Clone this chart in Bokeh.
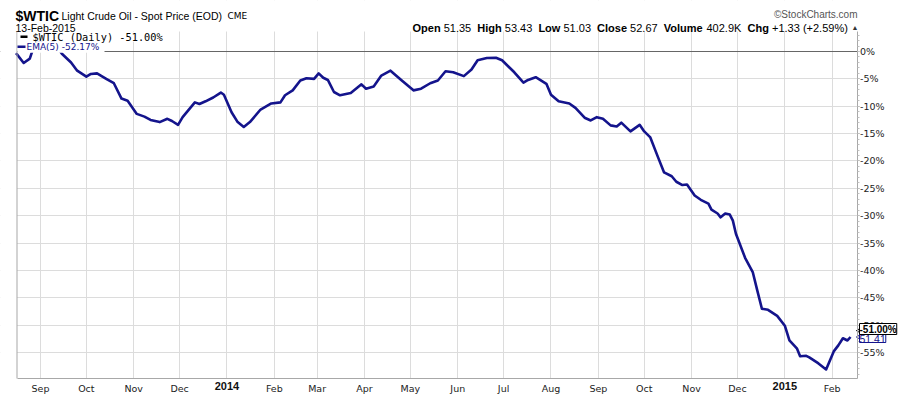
from datetime import datetime
import math
import pandas as pd
from bokeh.plotting import figure
from bokeh.models import (Range1d, DatetimeAxis, LinearAxis, MonthsTicker, FixedTicker,
                          DatetimeTickFormatter, PrintfTickFormatter, Label, Span,
                          BoxAnnotation, Grid)
from bokeh.embed import file_html
from bokeh.resources import INLINE

# ---------------- data ----------------
ema_dates = [
    "2013-08-16", "2013-08-21", "2013-08-25", "2013-08-28", "2013-09-03", "2013-09-06",
    "2013-09-10", "2013-09-15", "2013-09-21", "2013-09-25", "2013-10-01", "2013-10-04",
    "2013-10-08", "2013-10-14", "2013-10-19", "2013-10-24", "2013-10-28", "2013-11-03",
    "2013-11-08", "2013-11-12", "2013-11-18", "2013-11-23", "2013-11-26", "2013-11-30",
    "2013-12-03", "2013-12-11", "2013-12-14", "2013-12-18", "2013-12-23", "2013-12-28",
    "2013-12-30", "2014-01-04", "2014-01-08", "2014-01-12", "2014-01-16", "2014-01-23",
    "2014-01-30", "2014-02-05", "2014-02-08", "2014-02-13", "2014-02-18", "2014-02-22",
    "2014-02-27", "2014-03-02", "2014-03-05", "2014-03-08", "2014-03-12", "2014-03-16",
    "2014-03-23", "2014-03-30", "2014-04-02", "2014-04-07", "2014-04-12", "2014-04-18",
    "2014-04-25", "2014-05-03", "2014-05-08", "2014-05-14", "2014-05-19", "2014-05-24",
    "2014-05-29", "2014-06-05", "2014-06-10", "2014-06-14", "2014-06-20", "2014-06-26",
    "2014-06-30", "2014-07-08", "2014-07-14", "2014-07-17", "2014-07-22", "2014-07-29",
    "2014-08-01", "2014-08-06", "2014-08-13", "2014-08-17", "2014-08-23", "2014-08-27",
    "2014-08-31", "2014-09-04", "2014-09-09", "2014-09-13", "2014-09-16", "2014-09-22",
    "2014-09-28", "2014-10-01", "2014-10-05", "2014-10-10", "2014-10-14", "2014-10-19",
    "2014-10-22", "2014-10-26", "2014-10-29", "2014-11-03", "2014-11-07", "2014-11-12",
    "2014-11-14", "2014-11-18", "2014-11-20", "2014-11-23", "2014-11-26", "2014-11-28",
    "2014-11-30", "2014-12-06", "2014-12-11", "2014-12-14", "2014-12-17", "2014-12-21",
    "2014-12-27", "2015-01-01", "2015-01-04", "2015-01-09", "2015-01-11", "2015-01-15",
    "2015-01-17", "2015-01-23", "2015-01-28", "2015-02-02", "2015-02-05", "2015-02-08",
    "2015-02-11", "2015-02-13",
]
ema_pct = [
    -0.3, -2.1, -1.3, 1.2, 2.2, 2.6,
    1.6, -0.4, -2.0, -3.5, -4.6, -4.1,
    -4.0, -5.0, -5.8, -8.6, -9.0, -11.4,
    -11.9, -12.5, -12.9, -12.3, -12.7, -13.4,
    -12.0, -9.3, -9.6, -9.1, -8.4, -7.5,
    -7.9, -11.1, -12.9, -13.8, -12.9, -10.6,
    -9.5, -9.3, -8.0, -7.1, -5.3, -4.9,
    -5.0, -4.0, -4.8, -5.2, -7.4, -8.0,
    -7.6, -6.0, -6.8, -6.4, -4.4, -3.5,
    -5.2, -7.1, -6.8, -5.8, -5.3, -3.6,
    -3.8, -4.5, -3.3, -1.6, -1.2, -1.15,
    -1.6, -3.8, -5.7, -5.2, -4.7, -5.9,
    -7.9, -9.1, -9.5, -10.3, -12.1, -12.6,
    -12.0, -12.3, -13.5, -13.7, -13.0, -14.6,
    -13.4, -14.6, -15.7, -19.3, -22.1, -22.8,
    -23.8, -24.4, -24.3, -26.3, -27.1, -27.8,
    -28.9, -29.6, -30.3, -29.6, -29.8, -30.9,
    -33.3, -37.7, -40.3, -43.7, -47.0, -47.2,
    -48.3, -50.1, -52.8, -54.3, -55.7, -55.6,
    -55.9, -57.0, -58.1, -54.8, -53.7, -52.4,
    -52.8, -52.17,
]
wtic_pct = -51.00
ema_last_price = "51.41"
y_ticks = [0, -5, -10, -15, -20, -25, -30, -35, -40, -45, -50, -55]
y_minor = list(range(3, -60, -1))
month_ticks = [1, 2, 3, 4, 5, 6, 7, 8, 9, 10, 11]   # Feb..Dec (0-based months)
year_ticks = [0]                                     # January -> year label

symbol = "$WTIC"
name = "Light Crude Oil - Spot Price (EOD)"
exchange = "CME"
as_of = "13-Feb-2015"
quote_labels = ["Open", "High", "Low", "Close", "Volume", "Chg"]
quote_values = ["51.35", "53.43", "51.03", "52.67", "402.9K", "+1.33 (+2.59%)"]

# ---------------- layout (pixels of the 900x396 canvas) ----------------
W, H = 900, 396
PXD = 1.5284                 # pixels per calendar day
ANCHOR = pd.Timestamp("2013-09-01")
ANCHOR_PX = 40.0
PXP = 5.4727                 # pixels per percent
ZERO_PY = 51.0               # pixel row of 0 %
PLOT_L, PLOT_R, PLOT_T, PLOT_B = 16.5, 856.5, 31.0, 378.0

def px_to_date(px):
    return ANCHOR + pd.Timedelta(days=(px - ANCHOR_PX) / PXD)

def py_to_pct(py):
    return -(py - ZERO_PY) / PXP

def ms(ts):
    return float(pd.Timestamp(ts).value // 10**6)

x_start, x_end = px_to_date(0), px_to_date(W)
y_start, y_end = py_to_pct(H), py_to_pct(0)
plot_left_ms, plot_right_ms = ms(px_to_date(PLOT_L)), ms(px_to_date(PLOT_R))
plot_bottom, plot_top = py_to_pct(PLOT_B), py_to_pct(PLOT_T)

NAVY = "#14148c"
GRID = "#dcdcdc"
AXIS = "#a8a8a8"

x = pd.to_datetime(ema_dates)

p = figure(width=W, height=H, output_backend="svg", toolbar_location=None,
           x_axis_type="datetime", x_axis_location=None, y_axis_location=None,
           x_range=Range1d(x_start, x_end), y_range=Range1d(y_start, y_end),
           min_border=0, min_border_left=0, min_border_right=0,
           min_border_top=0, min_border_bottom=0)
p.outline_line_color = None
p.background_fill_color = "white"
p.border_fill_color = "white"
p.grid.visible = False

# grids
xgrid = Grid(dimension=0, ticker=MonthsTicker(months=list(range(12))),
             grid_line_color=GRID, bounds=(plot_left_ms, plot_right_ms))
ygrid = Grid(dimension=1, ticker=FixedTicker(ticks=y_ticks), grid_line_color=GRID)
p.add_layout(xgrid, "center")
p.add_layout(ygrid, "center")

# zero line (underlay, masked outside the plot area)
p.add_layout(Span(location=0, dimension="width", line_color="#666666", line_width=1,
                  level="underlay"))

# white masks outside the plot area (hide grid overflow)
def mask(**kw):
    p.add_layout(BoxAnnotation(fill_color="white", fill_alpha=1, line_color=None,
                               level="underlay",
                               left_units="screen", right_units="screen",
                               top_units="screen", bottom_units="screen", **kw))

mask(bottom=H - PLOT_T)                 # header strip
mask(top=H - PLOT_B)                    # tick label strip
mask(right=PLOT_L)                      # left margin
mask(left=PLOT_R + 0.5)                 # right label strip

# left frame edge
p.add_layout(BoxAnnotation(left=PLOT_L - 0.5, right=PLOT_L + 0.5, bottom=H - PLOT_B,
                           top=H - PLOT_T, left_units="screen", right_units="screen",
                           top_units="screen", bottom_units="screen",
                           fill_color=AXIS, fill_alpha=1, line_color=None))

# data line
p.line(x, ema_pct, line_color=NAVY, line_width=2.6, line_join="round")

# x axis: months
month_axis = DatetimeAxis(
    ticker=MonthsTicker(months=month_ticks),
    formatter=DatetimeTickFormatter(months="%b", days="%b", years="%b"),
    fixed_location=plot_bottom, bounds=(plot_left_ms, plot_right_ms),
    axis_line_color=AXIS, major_tick_out=0, major_tick_in=0,
    minor_tick_out=0, minor_tick_in=0, major_label_standoff=4,
    major_label_text_font="DejaVu Sans", major_label_text_font_size="9.5px",
    major_label_text_color="#222222")
p.add_layout(month_axis, "below")

yr = "%Y"
year_axis = DatetimeAxis(
    ticker=MonthsTicker(months=year_ticks),
    formatter=DatetimeTickFormatter(milliseconds=yr, seconds=yr, minsec=yr, minutes=yr,
                                    hourmin=yr, hours=yr, days=yr, months=yr, years=yr),
    fixed_location=plot_bottom, bounds=(plot_left_ms, plot_right_ms),
    axis_line_color=None, major_tick_out=0, major_tick_in=0,
    minor_tick_out=0, minor_tick_in=0, major_label_standoff=3,
    major_label_text_font="Liberation Sans", major_label_text_font_style="bold",
    major_label_text_font_size="11px", major_label_text_color="#111111")
p.add_layout(year_axis, "below")

# y axis on the right
y_axis = LinearAxis(
    ticker=FixedTicker(ticks=y_ticks, minor_ticks=y_minor),
    formatter=PrintfTickFormatter(format="%d%%"),
    fixed_location=plot_right_ms, bounds=(plot_bottom, plot_top),
    axis_line_color=AXIS, major_tick_out=2, major_tick_in=0,
    major_tick_line_color=AXIS, minor_tick_out=2, minor_tick_in=0,
    minor_tick_line_color="#c0c0c0", major_label_standoff=1,
    major_label_text_font="DejaVu Sans", major_label_text_font_size="9.5px",
    major_label_text_color="#222222")
p.add_layout(y_axis, "right")

# legend (manual, with white backgrounds)
def sbox(left, right, top, bottom, color):
    p.add_layout(BoxAnnotation(left=left, right=right, top=H - top, bottom=H - bottom,
                               left_units="screen", right_units="screen",
                               top_units="screen", bottom_units="screen",
                               fill_color=color, fill_alpha=1, line_color=None))

sbox(17, 163, 31.5, 41.2, "white")
sbox(17, 104, 41, 52.2, "white")
sbox(20, 27, 35, 37.6, "black")
sbox(17, 25, 45, 47.6, NAVY)
p.add_layout(Label(x=32, y=H - 36.3, x_units="screen", y_units="screen",
                   text=f"{symbol} (Daily) {wtic_pct:.2f}%",
                   text_font="DejaVu Sans Mono", text_font_size="10.3px",
                   text_baseline="middle", text_color="black"))
p.add_layout(Label(x=26, y=H - 46.3, x_units="screen", y_units="screen",
                   text=f"EMA(5) {ema_pct[-1]:.2f}%",
                   text_font="DejaVu Sans", text_font_size="9px",
                   text_baseline="middle", text_color=NAVY))

# price tags on the right (pointer + boxed value)
tip_x = px_to_date(PLOT_R + 4)
p.scatter([tip_x], [ema_pct[-1]], marker="triangle", size=8, angle=math.pi / 2,
          fill_color="white", line_color=NAVY, line_width=1)
p.scatter([tip_x], [wtic_pct], marker="triangle", size=8, angle=math.pi / 2,
          fill_color="white", line_color="black", line_width=1)
p.add_layout(Label(x=859, y=ema_pct[-1], y_offset=-1.5, x_units="screen", y_units="data",
                   text=ema_last_price, text_font="Liberation Sans",
                   text_font_size="10.5px", text_baseline="middle", text_color=NAVY,
                   background_fill_color="white", border_line_color=NAVY, padding=0))
p.add_layout(Label(x=859, y=wtic_pct, y_offset=1.6, x_units="screen", y_units="data",
                   text=f"{wtic_pct:.2f}%", text_font="Liberation Sans",
                   text_font_size="10px", text_font_style="bold",
                   text_baseline="middle", text_color="black",
                   background_fill_color="white", border_line_color="black", padding=0))

# header
def hdr(xp, ybase, text, size, font="Liberation Sans", style="normal", align="left",
        color="black"):
    p.add_layout(Label(x=xp, y=H - ybase, x_units="screen", y_units="screen", text=text,
                       text_font=font, text_font_size=size, text_font_style=style,
                       text_align=align, text_baseline="alphabetic", text_color=color))

hdr(15, 15.5, symbol, "14px", style="bold")
hdr(61, 15.5, name, "10.5px")
hdr(227, 15.5, exchange, "9px", font="DejaVu Sans")
hdr(15, 27, as_of, "10.5px")
hdr(857, 14, "\u00a9StockCharts.com", "10px", color="#555555", align="right")

label_x = [412.0, 476.8, 537.9, 596.6, 663.2, 747.0]
value_x = [443.2, 504.3, 563.0, 629.6, 706.0, 771.5]
for lab, val, lx, vx in zip(quote_labels, quote_values, label_x, value_x):
    hdr(lx, 27, lab, "11px", style="bold")
    hdr(vx, 27, val, "11px")
hdr(851, 26.5, "\u25b2", "7px", color="#333333")

open("out.html", "w").write(file_html(p, INLINE))
